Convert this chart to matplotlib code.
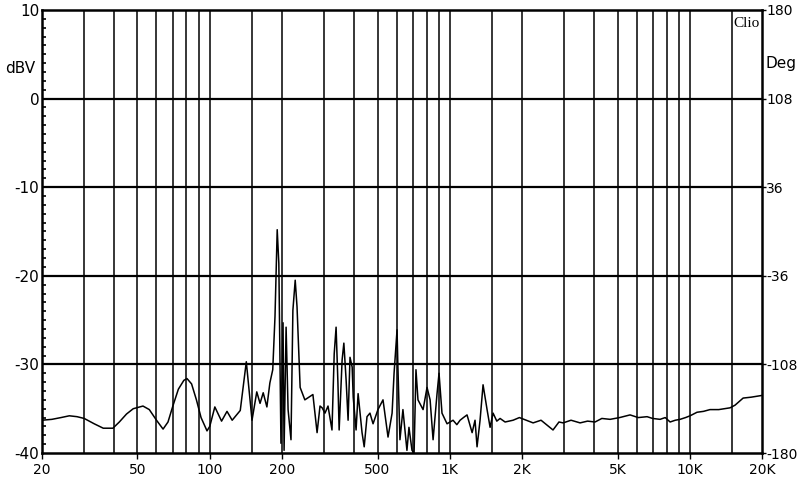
import numpy as np
import matplotlib
matplotlib.use('Agg')
import matplotlib.pyplot as plt
from matplotlib.ticker import FixedLocator, MultipleLocator, NullFormatter

# frequency (Hz) and level (dBV)
freq = [20, 22, 24, 26, 28, 30, 33, 36, 39.5, 42,
        45, 48, 52.7, 56, 60, 63.9, 67, 70, 74, 78,
        80.4, 84, 88, 92, 97.4, 100,
        105, 112, 118, 124, 134, 142, 144, 150, 157, 162,
        167, 173, 178, 183, 187, 191, 194, 198, 202, 204,
        208, 212, 218, 222, 227, 231, 238, 249, 269, 280,
        288, 294, 302, 311, 323, 330, 336, 342, 346, 356,
        362, 370, 377, 384, 392, 396, 407, 415, 431, 440,
        452, 465, 479, 502, 527, 553, 575, 586, 603, 608,
        620, 638, 663, 676, 696, 710, 723, 737, 774, 804,
        828, 852, 885, 902, 928, 974, 1032, 1070, 1104, 1140,
        1180, 1239, 1274, 1299, 1337, 1376, 1430, 1472, 1515, 1570,
        1620, 1700, 1835, 1950, 2224, 2400, 2692, 2850, 2967, 3200,
        3491, 3750, 4028, 4300, 4655, 5100, 5637, 6100, 6637, 7000,
        7517, 7900, 8276, 8700, 9110, 9600, 10024, 10716, 11400, 12135,
        13200, 14712, 15432, 16676, 18000, 20000]
level = [-36.3, -36.2, -36.0, -35.8, -35.9, -36.1, -36.7, -37.2, -37.2, -36.5,
         -35.6, -35.0, -34.7, -35.1, -36.3, -37.3, -36.5, -34.8, -32.8, -31.8,
         -31.6, -32.2, -34.0, -36.0, -37.5, -37.0,
         -34.8, -36.4, -35.3, -36.3, -35.2, -29.7, -31.4, -36.3, -33.1, -34.4,
         -33.2, -34.8, -32.1, -30.6, -24.6, -14.8, -18.6, -38.9, -25.3, -39.7,
         -25.8, -35.1, -38.5, -23.9, -20.5, -23.5, -32.6, -34.0, -33.4, -37.7,
         -34.7, -34.9, -35.5, -34.7, -37.4, -28.8, -25.8, -32.1, -37.4, -29.5,
         -27.6, -31.8, -36.3, -29.2, -30.3, -33.7, -37.4, -33.3, -37.7, -39.3,
         -35.9, -35.5, -36.7, -35.1, -34.0, -38.2, -35.5, -31.0, -26.1, -30.3,
         -38.5, -35.1, -39.7, -37.1, -39.7, -40.0, -30.6, -34.0, -35.1, -32.6,
         -34.0, -38.5, -33.3, -31.0, -35.5, -36.7, -36.3, -36.8, -36.3, -36.0,
         -35.7, -37.7, -36.3, -39.3, -36.3, -32.3, -35.1, -37.1, -35.5, -36.4,
         -36.1, -36.5, -36.3, -36.0, -36.6, -36.3, -37.4, -36.5, -36.6, -36.3,
         -36.6, -36.4, -36.5, -36.1, -36.2, -36.0, -35.7, -36.0, -35.9, -36.1,
         -36.2, -36.0, -36.5, -36.3, -36.2, -36.0, -35.8, -35.4, -35.3, -35.1,
         -35.1, -34.9, -34.6, -33.8, -33.7, -33.5]

x_ticks = [20, 50, 100, 200, 500, 1000, 2000, 5000, 10000, 20000]
x_labels = ['20', '50', '100', '200', '500', '1K', '2K', '5K', '10K', '20K']
grid_freqs = ([30, 40, 50, 60, 70, 80, 90] + list(range(100, 1000, 100)) + [150]
              + list(range(1000, 10000, 1000)) + [1500, 10000, 15000])
y_ticks = [-40, -30, -20, -10, 0, 10]
deg_ticks = [-180, -108, -36, 36, 108, 180]

fig = plt.figure(figsize=(8.01, 4.97), dpi=100)
ax = fig.add_axes([0.0524, 0.0885, 0.899, 0.8915])

ax.set_xscale('log')
ax.set_xlim(20, 20000)
ax.set_ylim(-40, 10)

ax.vlines(grid_freqs, 0, 1, transform=ax.get_xaxis_transform(), color='black', lw=1.1)
for y in y_ticks[1:-1]:
    ax.axhline(y, color='black', lw=1.6)

ax.plot(freq, level, color='black', lw=1.1)

for s in ax.spines.values():
    s.set_linewidth(1.8)

ax.xaxis.set_major_locator(FixedLocator(x_ticks))
ax.set_xticklabels(x_labels, fontsize=10)
ax.xaxis.set_minor_formatter(NullFormatter())
ax.xaxis.set_minor_locator(FixedLocator([]))
ax.tick_params(axis='x', direction='out', length=4, width=1, pad=3)

ax.set_yticks(y_ticks)
ax.set_yticklabels([str(v) for v in y_ticks], fontsize=11)
ax.yaxis.set_minor_locator(MultipleLocator(1))
ax.tick_params(axis='y', which='major', direction='in', length=0, pad=2)
ax.tick_params(axis='y', which='minor', direction='in', length=3, width=1.2, right=True)

ax2 = ax.twinx()
ax2.set_ylim(-180, 180)
ax2.set_yticks(deg_ticks)
ax2.set_yticklabels([str(v) for v in deg_ticks], fontsize=10)
ax2.tick_params(axis='y', direction='out', length=3, width=1, pad=0)
for s in ax2.spines.values():
    s.set_visible(False)

fig.text(0.025, 0.862, 'dBV', fontsize=11, ha='center', va='center')
fig.text(0.975, 0.872, 'Deg', fontsize=11, ha='center', va='center')
ax.text(0.997, 0.985, 'Clio', transform=ax.transAxes, fontsize=11,
        family='Liberation Serif', ha='right', va='top')

fig.savefig('out.png', dpi=100)
